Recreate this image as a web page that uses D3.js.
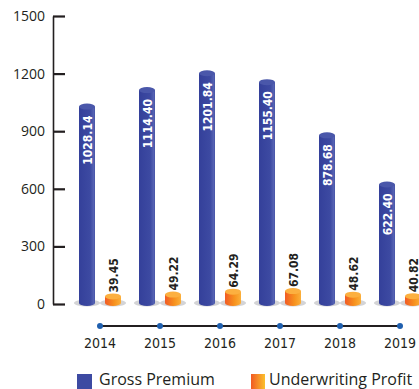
<!DOCTYPE html>
<html>
<head>
<meta charset="utf-8">
<script src="https://cdn.jsdelivr.net/npm/d3@7"></script>
<style>
  body { margin: 0; background: #fff; }
  svg { display: block; }
</style>
</head>
<body>
<div id="chart"></div>
<script>
var years = ["2014", "2015", "2016", "2017", "2018", "2019"];
var grossPremium = [1028.14, 1114.40, 1201.84, 1155.40, 878.68, 622.40];
var underwritingProfit = [39.45, 49.22, 64.29, 67.08, 48.62, 40.82];
var yTicks = [0, 300, 600, 900, 1200, 1500];
var seriesNames = ["Gross Premium", "Underwriting Profit"];

var svgWidth = 419;
var svgHeight = 389;

var svg = d3.select("#chart")
  .append("svg")
  .attr("width", svgWidth)
  .attr("height", svgHeight);

var defs = svg.append("defs");

function hGrad(id, stops) {
  var g = defs.append("linearGradient")
    .attr("id", id)
    .attr("x1", "0%").attr("x2", "100%")
    .attr("y1", "0%").attr("y2", "0%");
  stops.forEach(function(s) {
    g.append("stop").attr("offset", s[0]).attr("stop-color", s[1]);
  });
}

hGrad("blueBody", [["0%", "#34409a"], ["70%", "#3d4aa2"], ["92%", "#5663b3"], ["100%", "#4552a6"]]);
hGrad("orangeBody", [["0%", "#f15a24"], ["60%", "#f7931e"], ["100%", "#fbb03b"]]);
hGrad("orangeLegend", [["0%", "#f15a24"], ["100%", "#fbc02d"]]);

var y = d3.scaleLinear().domain([0, 1500]).range([304, 16]);
var x = d3.scalePoint().domain(years).range([100, 400]);

var barW = 16;
var ry = 3;

// y axis
var axisX = 53;
var yAxis = svg.append("g")
  .attr("transform", `translate(${axisX},0)`)
  .call(d3.axisLeft(y)
    .tickValues(yTicks)
    .tickFormat(d3.format("d"))
    .tickSizeInner(-12)
    .tickSizeOuter(0)
    .tickPadding(8));

yAxis.select(".domain").attr("stroke", "#231f20").attr("stroke-width", 1.6);
yAxis.selectAll(".tick line").attr("stroke", "#231f20").attr("stroke-width", 2.2);
yAxis.selectAll(".tick text")
  .attr("fill", "#231f20")
  .style("font-family", "'Open Sans', sans-serif")
  .style("font-size", "14px");

function cylinder(g, cx, top, base, fill, capFill) {
  var x0 = cx - barW / 2, x1 = cx + barW / 2;
  g.append("ellipse")
    .attr("cx", cx).attr("cy", base)
    .attr("rx", barW / 2 + 5).attr("ry", 3.5)
    .attr("fill", "#d4d4d6");
  g.append("path")
    .attr("d", `M${x0},${top} V${base} A${barW / 2},${ry} 0 0 0 ${x1},${base} V${top} Z`)
    .attr("fill", fill);
  g.append("ellipse")
    .attr("cx", cx).attr("cy", top)
    .attr("rx", barW / 2).attr("ry", ry)
    .attr("fill", capFill);
}

var bars = svg.append("g");

years.forEach(function(yr, i) {
  var cx = x(yr) - 13;
  var top = y(grossPremium[i]);
  cylinder(bars, cx, top, y(0) - 1, "url(#blueBody)", "#4a57aa");
  bars.append("text")
    .attr("transform", `translate(${cx + 4.5},${top + 9}) rotate(-90)`)
    .attr("text-anchor", "end")
    .attr("fill", "#fff")
    .style("font-family", "'DejaVu Sans Condensed', 'DejaVu Sans', sans-serif")
    .style("font-weight", "bold")
    .style("font-size", "12px")
    .text(grossPremium[i].toFixed(2));

  var ox = x(yr) + 13;
  var otop = y(underwritingProfit[i]);
  cylinder(bars, ox, otop, y(0) - 1, "url(#orangeBody)", "#fcb040");
  bars.append("text")
    .attr("transform", `translate(${ox + 4.5},${otop - 4}) rotate(-90)`)
    .attr("text-anchor", "start")
    .attr("fill", "#231f20")
    .style("font-family", "'DejaVu Sans Condensed', 'DejaVu Sans', sans-serif")
    .style("font-weight", "bold")
    .style("font-size", "12px")
    .text(underwritingProfit[i].toFixed(2));
});

// year timeline
var timeline = svg.append("g");
timeline.append("line")
  .attr("x1", x(years[0])).attr("x2", x(years[years.length - 1]))
  .attr("y1", 326).attr("y2", 326)
  .attr("stroke", "#231f20").attr("stroke-width", 1.8);

timeline.selectAll("circle")
  .data(years)
  .enter()
  .append("circle")
  .attr("cx", d => x(d))
  .attr("cy", 326)
  .attr("r", 3)
  .attr("fill", "#1f5fae");

timeline.selectAll("text")
  .data(years)
  .enter()
  .append("text")
  .attr("x", d => x(d))
  .attr("y", 348)
  .attr("text-anchor", "middle")
  .attr("fill", "#231f20")
  .style("font-family", "'Liberation Sans Narrow', 'DejaVu Sans Condensed', sans-serif")
  .style("font-size", "14px")
  .text(d => d);

// legend
var legend = svg.append("g");
legend.append("rect")
  .attr("x", 77).attr("y", 374).attr("width", 15).attr("height", 15)
  .attr("fill", "#3d4aa2");
legend.append("text")
  .attr("x", 99).attr("y", 385)
  .attr("fill", "#231f20")
  .style("font-family", "'Open Sans', sans-serif")
  .style("font-size", "16px")
  .text(seriesNames[0]);

legend.append("rect")
  .attr("x", 251).attr("y", 374).attr("width", 14).attr("height", 15)
  .attr("fill", "url(#orangeLegend)");
legend.append("text")
  .attr("x", 269).attr("y", 385)
  .attr("fill", "#231f20")
  .style("font-family", "'Open Sans', sans-serif")
  .style("font-size", "16px")
  .text(seriesNames[1]);
</script>
</body>
</html>
